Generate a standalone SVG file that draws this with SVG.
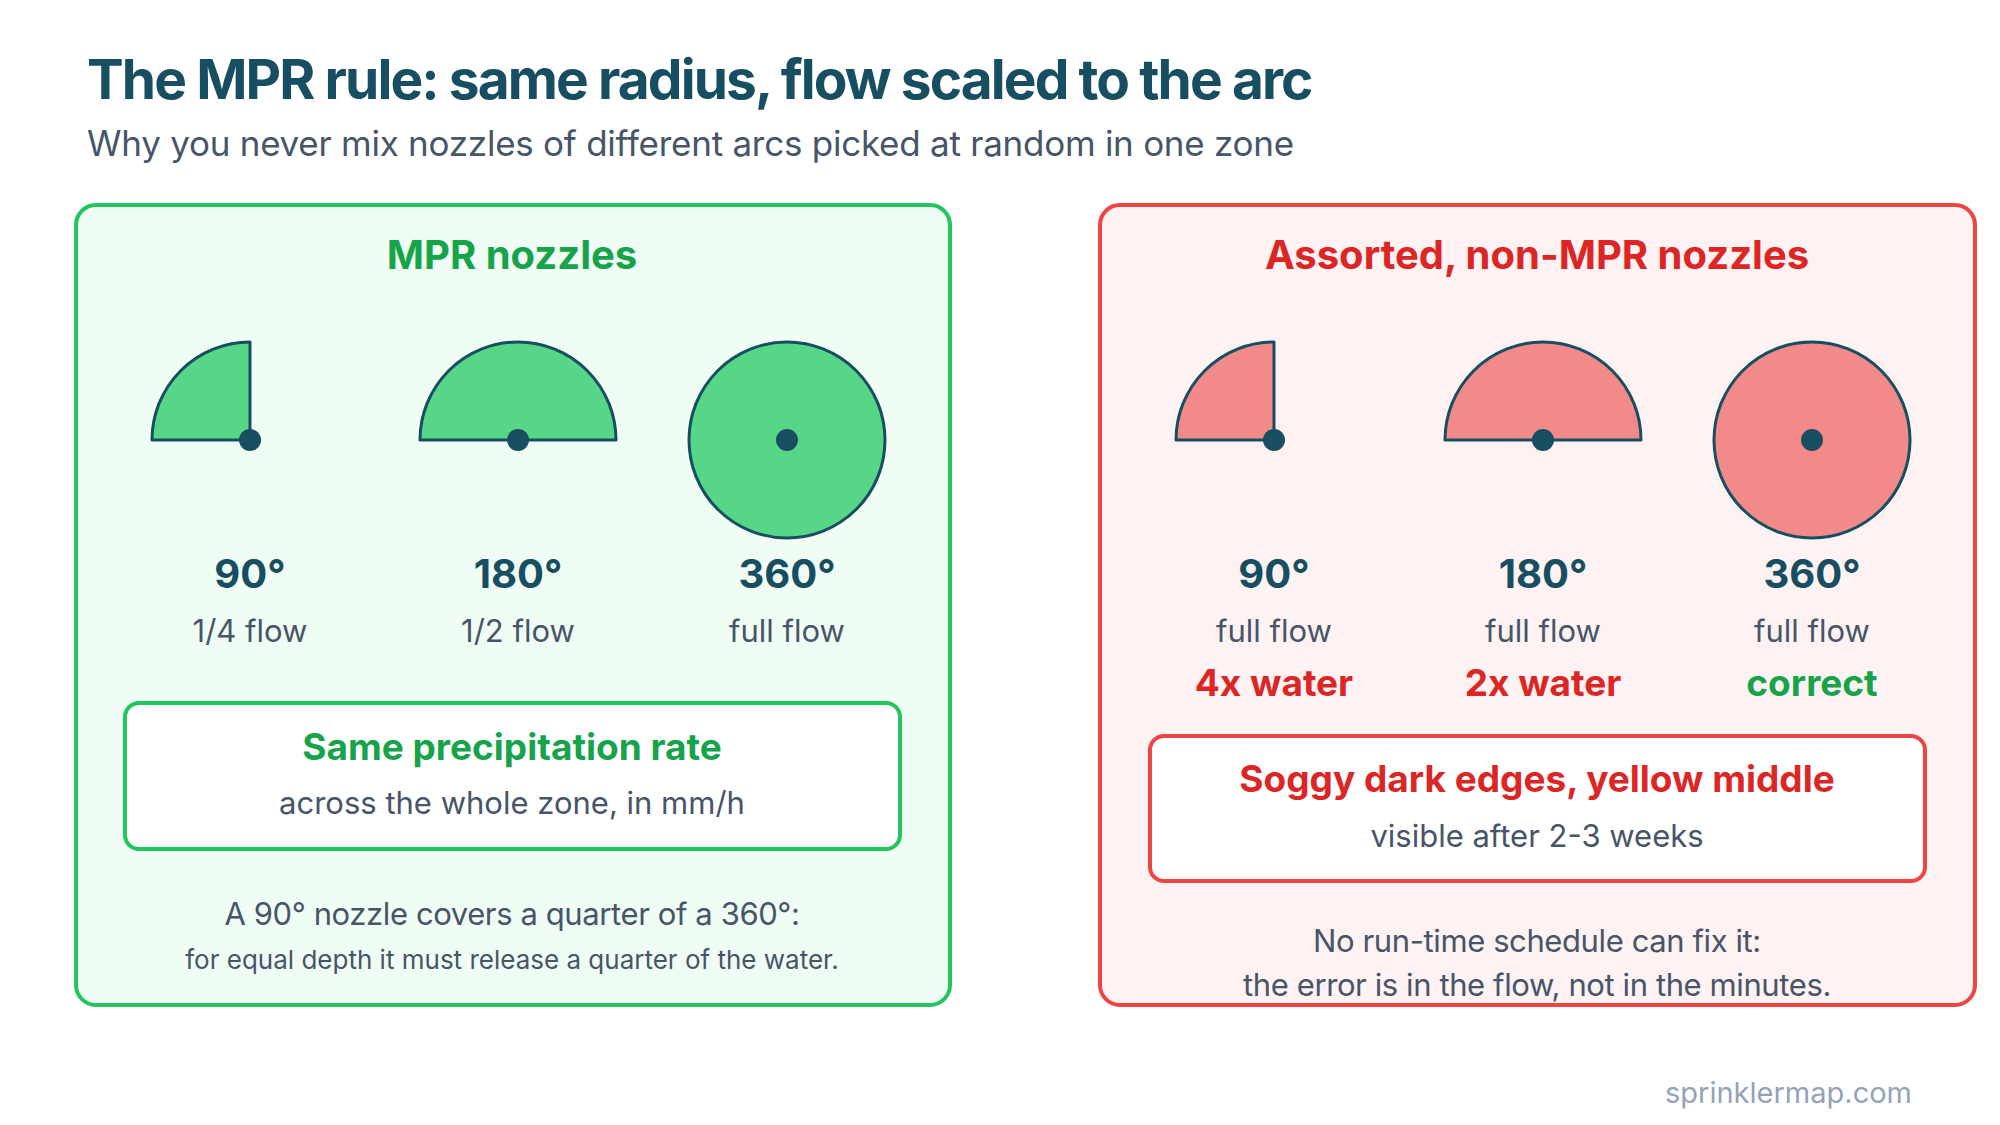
<svg xmlns="http://www.w3.org/2000/svg" width="2000" height="1125" viewBox="0 0 2000 1125">
<style>
text{font-family:Inter,"Liberation Sans",Arial,sans-serif;text-anchor:middle}
.title{font-size:55px;font-weight:700;fill:#174e61;text-anchor:start;letter-spacing:-1.9px}
.sub{font-size:35px;fill:#475569;text-anchor:start;letter-spacing:-0.25px}
.ghead{font-size:40px;font-weight:700;fill:#16a34a}
.rhead{font-size:40px;font-weight:700;fill:#dc2626}
.deg{font-size:40px;font-weight:700;fill:#174e61}
.flow{font-size:31px;fill:#475569}
.note{font-size:31px;fill:#475569;letter-spacing:-0.4px}
.small{font-size:26px;fill:#475569}
.bold{font-size:37px;font-weight:700}
.g{fill:#16a34a}.r{fill:#dc2626}
.gshape{fill:#57d687;stroke:#174e61;stroke-width:3;stroke-linejoin:round}
.rshape{fill:#f38a8a;stroke:#174e61;stroke-width:3;stroke-linejoin:round}
.dot{fill:#174e61}
</style>
<rect width="2000" height="1125" fill="#ffffff"/>
<text class="title" x="87" y="99">The MPR rule: same radius, flow scaled to the arc</text>
<text class="sub" x="87" y="156">Why you never mix nozzles of different arcs picked at random in one zone</text>

<g id="panel-mpr">
<rect x="76" y="205" width="874" height="800" rx="20" fill="#effdf4" stroke="#22c55e" stroke-width="4"/>
<text class="ghead" x="512" y="269">MPR nozzles</text>
</g>
<g id="mpr-90">
<path class="gshape" d="M250,440 L152,440 A98,98 0 0 1 250,342 Z"/>
<circle class="dot" cx="250" cy="440" r="11"/>
<text class="deg" x="250" y="588">90°</text>
<text class="flow" x="250" y="642">1/4 flow</text>
</g>
<g id="mpr-180">
<path class="gshape" d="M420,440 A98,98 0 0 1 616,440 Z"/>
<circle class="dot" cx="518" cy="440" r="11"/>
<text class="deg" x="518" y="588">180°</text>
<text class="flow" x="518" y="642">1/2 flow</text>
</g>
<g id="mpr-360">
<circle class="gshape" cx="787" cy="440" r="98"/>
<circle class="dot" cx="787" cy="440" r="11"/>
<text class="deg" x="787" y="588">360°</text>
<text class="flow" x="787" y="642">full flow</text>
</g>
<g id="mpr-result">
<rect x="125" y="703" width="775" height="146" rx="14" fill="#ffffff" stroke="#22c55e" stroke-width="4"/>
<text class="bold g" x="512" y="760">Same precipitation rate</text>
<text class="flow" x="512" y="814">across the whole zone, in mm/h</text>
</g>
<g id="mpr-note">
<text class="note" x="512" y="925">A 90° nozzle covers a quarter of a 360°:</text>
<text class="small" x="512" y="969">for equal depth it must release a quarter of the water.</text>
</g>

<g id="panel-nonmpr">
<rect x="1100" y="205" width="875" height="800" rx="20" fill="#fef2f2" stroke="#ef4444" stroke-width="4"/>
<text class="rhead" x="1537" y="269">Assorted, non-MPR nozzles</text>
</g>
<g id="non-90">
<path class="rshape" d="M1274,440 L1176,440 A98,98 0 0 1 1274,342 Z"/>
<circle class="dot" cx="1274" cy="440" r="11"/>
<text class="deg" x="1274" y="588">90°</text>
<text class="flow" x="1274" y="642">full flow</text>
<text class="bold r" x="1274" y="696">4x water</text>
</g>
<g id="non-180">
<path class="rshape" d="M1445,440 A98,98 0 0 1 1641,440 Z"/>
<circle class="dot" cx="1543" cy="440" r="11"/>
<text class="deg" x="1543" y="588">180°</text>
<text class="flow" x="1543" y="642">full flow</text>
<text class="bold r" x="1543" y="696">2x water</text>
</g>
<g id="non-360">
<circle class="rshape" cx="1812" cy="440" r="98"/>
<circle class="dot" cx="1812" cy="440" r="11"/>
<text class="deg" x="1812" y="588">360°</text>
<text class="flow" x="1812" y="642">full flow</text>
<text class="bold g" x="1812" y="696">correct</text>
</g>
<g id="non-result">
<rect x="1150" y="736" width="775" height="145" rx="14" fill="#ffffff" stroke="#ef4444" stroke-width="4"/>
<text class="bold r" x="1537" y="792">Soggy dark edges, yellow middle</text>
<text class="flow" x="1537" y="847">visible after 2-3 weeks</text>
</g>
<g id="non-note">
<text class="note" x="1537" y="952">No run-time schedule can fix it:</text>
<text class="note" x="1537" y="996">the error is in the flow, not in the minutes.</text>
</g>
<g id="connectors"></g>
<text x="1912" y="1103" style="font-size:29px;fill:#94a3b8;text-anchor:end">sprinklermap.com</text>
</svg>
